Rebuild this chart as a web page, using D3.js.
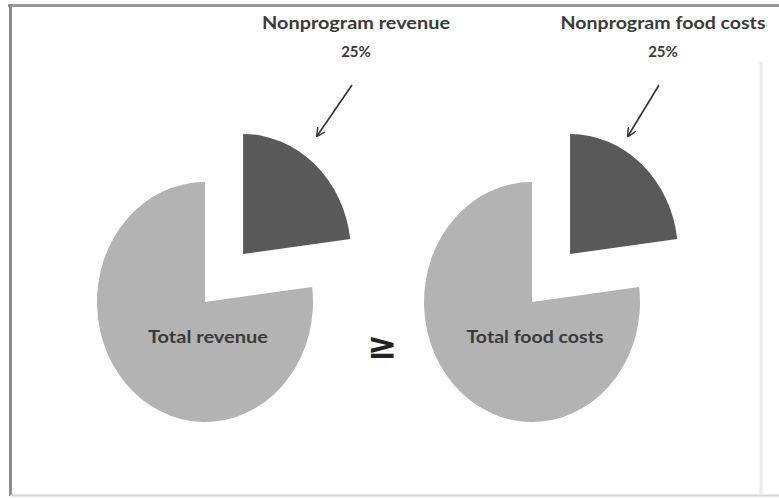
<!DOCTYPE html>
<html>
<head>
<meta charset="utf-8">
<script src="https://cdn.jsdelivr.net/npm/d3@7"></script>
<style>
 body { margin: 0; background: #fff; }
 text { font-family: Lato, "Open Sans", sans-serif; font-weight: bold; fill: #3a3a3a; }
</style>
</head>
<body>
<div id="chart"></div>
<script>
 //The two pies, left and right.
 var pieNames = ["revenue", "food costs"];
 var innerLabels = ["Total revenue", "Total food costs"];
 var outerLabels = ["Nonprogram revenue", "Nonprogram food costs"];
 var percentLabels = ["25%", "25%"];

 //Slice sizes as they are drawn: nonprogram part first, then the rest.
 var sliceValues = [[23, 77], [23, 77]];
 var sliceColors = ["#595959", "#b3b3b3"];

 window.onload = function()
 {
  var width = 779, height = 499;

  var svg = d3.select("#chart").append("svg").attr("width", width).attr("height", height);

  //Frame round the picture.
  svg.append("line").attr("x1", 8).attr("x2", width).attr("y1", 5.5).attr("y2", 5.5)
   .attr("stroke", "#999").attr("stroke-width", 3);
  svg.append("line").attr("x1", 10.5).attr("x2", 10.5).attr("y1", 4).attr("y2", 496)
   .attr("stroke", "#8c8c8c").attr("stroke-width", 3);
  svg.append("line").attr("x1", 10).attr("x2", width).attr("y1", 495.5).attr("y2", 495.5)
   .attr("stroke", "#d4d4d4").attr("stroke-width", 2);
  svg.append("line").attr("x1", 761).attr("x2", 761).attr("y1", 62).attr("y2", 494)
   .attr("stroke", "#ececec").attr("stroke-width", 3);

  //Arrow head.
  svg.append("defs").append("marker").attr("id", "head")
   .attr("viewBox", "0 0 10 10").attr("refX", 9).attr("refY", 5)
   .attr("markerWidth", 9).attr("markerHeight", 9).attr("orient", "auto")
   .attr("markerUnits", "userSpaceOnUse")
   .append("path").attr("d", "M0,0 L10,5 L0,10").attr("fill", "none")
   .attr("stroke", "#333").attr("stroke-width", 1.6);

  //Pie layout.
  var radius = 120;
  var squeeze = 0.9;
  var explode = 64;
  var pie = d3.pie().sort(null);
  var arc = d3.arc().innerRadius(0).outerRadius(radius);

  //Horizontal place of each pie centre.
  var x = d3.scalePoint().domain(pieNames).range([205, 532]);
  var cy = 302;

  //Widths the labels take in the picture.
  var innerWidths = [120, 137];
  var outerWidths = [188, 205];

  pieNames.forEach(function(name, i)
  {
   var cx = x(name);
   var g = svg.append("g").attr("transform", "translate(" + cx + "," + cy + ") scale(" + squeeze + ",1)");

   g.selectAll("path").data(pie(sliceValues[i])).enter().append("path")
    .attr("d", arc)
    .attr("fill", function(d, j) { return sliceColors[j]; })
    .attr("transform", function(d, j)
    {
     if (j > 0) return null;
     var mid = (d.startAngle + d.endAngle) / 2;
     return "translate(" + Math.sin(mid) * explode + "," + (-Math.cos(mid) * explode) + ")";
    });

   //Label inside the big slice.
   svg.append("text").attr("x", cx + 3).attr("y", cy + 41)
    .attr("text-anchor", "middle").attr("font-size", 16.5)
    .attr("textLength", innerWidths[i]).attr("lengthAdjust", "spacingAndGlyphs")
    .text(innerLabels[i]);

   //Label above with arrow.
   var lx = cx + 151 - i * 20;
   svg.append("text").attr("x", lx).attr("y", 29)
    .attr("text-anchor", "middle").attr("font-size", 16.5)
    .attr("textLength", outerWidths[i]).attr("lengthAdjust", "spacingAndGlyphs")
    .text(outerLabels[i]);
   svg.append("text").attr("x", lx).attr("y", 57)
    .attr("text-anchor", "middle").attr("font-size", 15)
    .text(percentLabels[i]);

   svg.append("line")
    .attr("x1", cx + 147 - i * 20).attr("y1", 85)
    .attr("x2", cx + 112 - i * 16).attr("y2", 136)
    .attr("stroke", "#333").attr("stroke-width", 1.6)
    .attr("marker-end", "url(#head)");
  });

  //Comparison sign between the pies.
  svg.append("text").attr("x", 382).attr("y", 358)
   .attr("text-anchor", "middle").attr("font-size", 36)
   .style("font-family", "'DejaVu Sans', sans-serif")
   .style("fill", "#222").text("\u2265");
 }
</script>
</body>
</html>
